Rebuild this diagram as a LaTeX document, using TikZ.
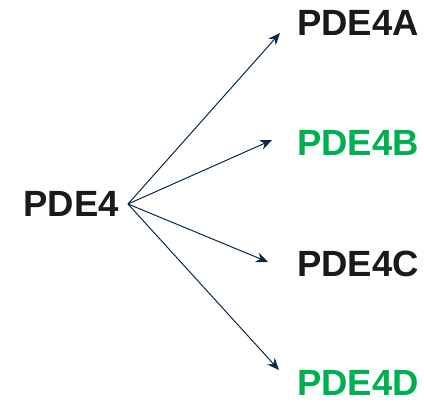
\documentclass[tikz,border=0pt]{standalone}
\usepackage{fontspec}
\setmainfont{Liberation Sans}
\usetikzlibrary{arrows.meta}
\definecolor{navy}{HTML}{0B2A4A}
\definecolor{isogreen}{HTML}{00B050}
\definecolor{inkblack}{HTML}{1A1A1A}
\tikzset{
  gene/.style={inner sep=0pt, font=\fontsize{36.5}{40}\selectfont\bfseries, text=inkblack},
  branch/.style={draw=navy, line width=1pt, -{Stealth[length=12pt,width=10pt]}}
}
\begin{document}
\begin{tikzpicture}[x=1pt,y=-1pt]
\useasboundingbox (0,0) rectangle (424,402);
% the parent gene on the left
\node[gene, anchor=east] (pde) at (119,204) {PDE4};
\coordinate (hub) at (128,204);
% the four isoforms on the right
\node[gene, anchor=west] (pdeA) at (297,23) {PDE4A};
\node[gene, anchor=west, text=isogreen] (pdeB) at (297,143) {PDE4B};
\node[gene, anchor=west] (pdeC) at (297,264) {PDE4C};
\node[gene, anchor=west, text=isogreen] (pdeD) at (297,383) {PDE4D};
% arrow tips stop short of the labels
\coordinate (tipA) at (280,33);
\coordinate (tipB) at (272,140);
\coordinate (tipC) at (268,262);
\coordinate (tipD) at (279,370);
\foreach \i in {A,B,C,D}
{
  \draw[branch] (hub) -- (tip\i);
}
\end{tikzpicture}
\end{document}
